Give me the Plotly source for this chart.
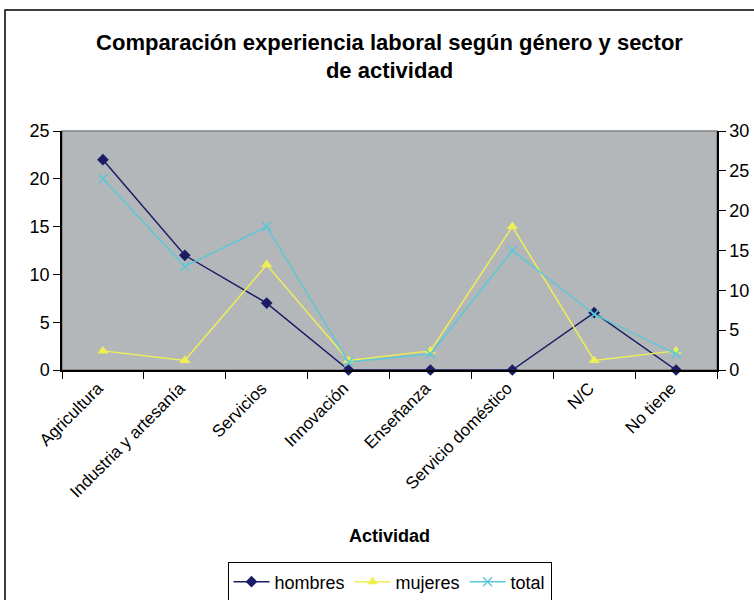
import plotly.graph_objects as go

actividades = ['Agricultura', 'Industria y artesanía', 'Servicios', 'Innovación',
               'Enseñanza', 'Servicio doméstico', 'N/C', 'No tiene']
hombres = [22, 12, 7, 0, 0, 0, 6, 0]
mujeres = [2, 1, 11, 1, 2, 15, 1, 2]
total = [24, 13, 18, 1, 2, 15, 7, 2]

font = 'Liberation Sans, Arial, sans-serif'

fig = go.Figure()

fig.add_trace(go.Scatter(
    x=actividades, y=hombres, name='hombres', mode='lines+markers',
    line=dict(color='#1c1c66', width=1.5),
    marker=dict(symbol='diamond', size=9, color='#1c1c66'),
    cliponaxis=False,
))
fig.add_trace(go.Scatter(
    x=actividades, y=mujeres, name='mujeres', mode='lines+markers',
    line=dict(color='#eeee55', width=1.5),
    marker=dict(symbol='triangle-up', size=10, color='#eeee55'),
    cliponaxis=False,
))
fig.add_trace(go.Scatter(
    x=actividades, y=total, name='total', mode='lines+markers', yaxis='y2',
    line=dict(color='#5cc8d6', width=1.5),
    marker=dict(symbol='x-thin', size=9, line=dict(color='#5cc8d6', width=1.5)),
    cliponaxis=False,
))

# outer chart frame and plot area border
fig.add_shape(type='rect', xref='paper', yref='paper', x0=-0.087, x1=1.2, y0=-1.2, y1=1.506,
              line=dict(color='black', width=1.5), layer='below')
fig.add_shape(type='rect', xref='paper', yref='paper', x0=0, x1=1, y0=0, y1=1,
              line=dict(color='#808080', width=1.5), layer='below')

fig.add_annotation(text='<b>Actividad</b>', xref='paper', yref='paper', x=0.5, y=-0.745,
                   showarrow=False, font=dict(size=18, family=font, color='black'))

fig.update_layout(
    width=754, height=600,
    margin=dict(l=62, r=37, t=131, b=230, autoexpand=False),
    paper_bgcolor='white',
    plot_bgcolor='#b4b7b9',
    title=dict(text='<b>Comparación experiencia laboral según género y sector<br>de actividad</b>',
               x=0.5, xref='paper', xanchor='center', y=0.917, yanchor='middle',
               font=dict(size=22, family=font, color='black')),
    font=dict(family=font, color='black', size=18),
    xaxis=dict(type='category', range=[-0.5, 7.5], tickangle=-45, tickson='boundaries',
               ticks='outside', ticklen=7, tickcolor='black', showline=True,
               linecolor='black', linewidth=1.5, showgrid=False, zeroline=False,
               tickfont=dict(size=17), automargin=False, ticklabelshift=-5),
    yaxis=dict(range=[0, 25], dtick=5, ticks='outside', ticklen=7, tickcolor='black',
               showline=True, linecolor='black', linewidth=1.5, showgrid=False,
               zeroline=False, tickfont=dict(size=18), automargin=False),
    yaxis2=dict(range=[0, 30], dtick=5, overlaying='y', side='right', ticks='outside',
                ticklen=7, tickcolor='black', showline=True, linecolor='black',
                linewidth=1.5, showgrid=False, zeroline=False, tickfont=dict(size=18),
                automargin=False),
    legend=dict(orientation='h', x=0.5, xanchor='center', y=-0.887, yanchor='middle',
                bordercolor='black', borderwidth=1, bgcolor='white',
                font=dict(size=18), itemwidth=36),
    showlegend=True,
)

fig.write_html('out.html', config={'displayModeBar': False},
               post_script="document.body.style.margin='0';")
